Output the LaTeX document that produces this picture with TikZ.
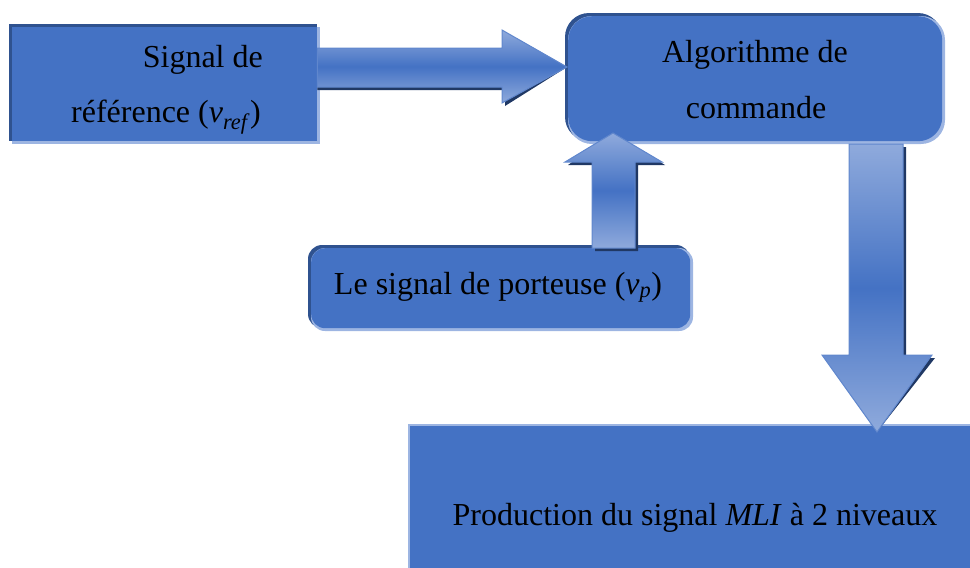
\documentclass[tikz,border=0pt]{standalone}
\usepackage{fontspec}
\setmainfont{Liberation Serif}
\usetikzlibrary{calc}
\definecolor{mainblue}{HTML}{4472C4}
\definecolor{liteblue}{HTML}{8FAADC}
\definecolor{edgedark}{HTML}{2F528F}
\definecolor{shadowblue}{HTML}{203864}
\definecolor{edgelite}{HTML}{9DB5E2}
\tikzset{
  boxfill/.style={fill=mainblue, draw=none, inner sep=0pt, anchor=north west},
  txt/.style={inner sep=0pt, font=\fontsize{32}{40}\selectfont, text=black},
  arrowbody/.style={top color=liteblue, bottom color=liteblue, middle color=mainblue,
                    draw=mainblue!85!white, line width=1pt, line join=miter},
  arrowshadow/.style={fill=shadowblue},
}
\newcommand{\vsub}[1]{\textit{v}\textsubscript{\textit{#1}}}
\begin{document}
\begin{tikzpicture}[x=1pt, y=-1pt]
\useasboundingbox (0,0) rectangle (970,568);

% reference signal box (bevelled rectangle)
\fill[edgedark] (9,24) rectangle (317,141);
\fill[edgelite] (12,27) rectangle (320,144);
\node[boxfill, minimum width=305, minimum height=114] (ref) at (12,27) {};
\node[txt, anchor=base east] (ref1) at (263,67) {Signal de};
\node[txt, anchor=base east] (ref2) at (261,122) {référence (\vsub{ref})};

% control algorithm box (rounded, bevelled)
\fill[edgedark, rounded corners=24] (565,13) rectangle (942,141);
\fill[edgelite, rounded corners=24] (568,16) rectangle (945,144);
\node[boxfill, rounded corners=24, minimum width=374, minimum height=125] (algo) at (568,16) {};
\node[txt, anchor=base] (algo1) at (755,62) {Algorithme de};
\node[txt, anchor=base] (algo2) at (756,118) {commande};

% carrier signal box
\fill[edgedark, rounded corners=14] (308,245) rectangle (690,328);
\fill[edgelite, rounded corners=14] (311,248) rectangle (693,331);
\node[boxfill, rounded corners=14, minimum width=379, minimum height=80] (carrier) at (311,248) {};
\node[txt, anchor=base] (carriertext) at (498,294) {Le signal de porteuse (\vsub{p})};

% two-level PWM output box
\fill[edgelite] (408,424) rectangle (980,580);
\node[boxfill, minimum width=570, minimum height=154] (pwm) at (410,426) {};
\node[txt, anchor=base] (pwmtext) at (695,525) {Production du signal \textit{MLI} à 2 niveaux};

% block arrows: reference -> algorithm
\coordinate (tipA) at (567,67);
\fill[arrowshadow, shift={(3,3)}] (ref.east |- 0,48) -- (502,48) -- (502,30) -- (tipA) -- (502,103) -- (502,87) -- (ref.east |- 0,87) -- cycle;
\shade[arrowbody] (ref.east |- 0,48) -- (502,48) -- (502,30) -- (tipA) -- (502,103) -- (502,87) -- (ref.east |- 0,87) -- cycle;

% carrier -> algorithm
\coordinate (tipB) at (613,133);
\fill[arrowshadow, shift={(3,3)}] (tipB) -- (662,162) -- (635,162) -- (635,248) -- (592,248) -- (592,162) -- (565,162) -- cycle;
\shade[arrowbody] (tipB) -- (662,162) -- (635,162) -- (635,248) -- (592,248) -- (592,162) -- (565,162) -- cycle;

% algorithm -> PWM output
\coordinate (tipC) at (877,432);
\fill[arrowshadow, shift={(3,3)}] (849,144) -- (903,144) -- (903,355) -- (932,355) -- (tipC) -- (822,355) -- (849,355) -- cycle;
\shade[arrowbody] (849,144) -- (903,144) -- (903,355) -- (932,355) -- (tipC) -- (822,355) -- (849,355) -- cycle;
\end{tikzpicture}
\end{document}
